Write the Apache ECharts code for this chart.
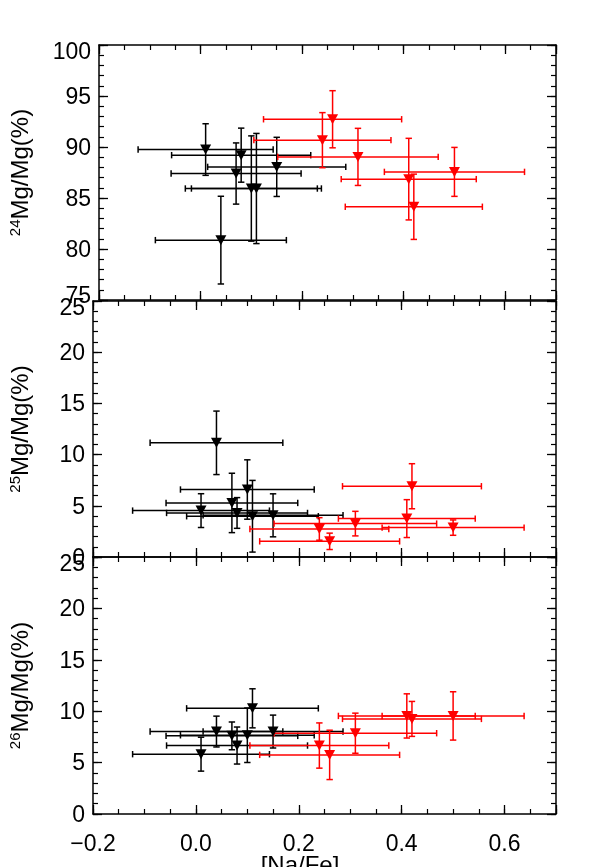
<!DOCTYPE html>
<html><head><meta charset="utf-8">
<script src="https://cdn.jsdelivr.net/npm/echarts@6/dist/echarts.min.js"></script>
<style>html,body{margin:0;padding:0;background:#fff}#c{width:598px;height:867px}</style>
</head><body><div id="c"></div>
<script>
// ---- data ----
// black group
const naFeBlack     = [0.01, 0.04, 0.07, 0.08, 0.10, 0.11, 0.15];
const naFeErrBlack  = [0.133, 0.129, 0.128, 0.137, 0.130, 0.128, 0.136];
const mg24Black     = [89.75, 80.87, 87.40, 89.20, 85.93, 85.93, 88.05];
const mg24ErrBlack  = [2.53, 4.3, 3.0, 2.65, 5.16, 5.4, 2.9];
const mg25Black     = [4.53, 11.15, 5.28, 4.30, 6.59, 3.98, 4.07];
const mg25ErrBlack  = [1.65, 3.1, 2.9, 1.5, 2.9, 3.5, 2.1];
const mg26Black     = [5.82, 8.02, 7.60, 6.66, 7.66, 10.28, 8.02];
const mg26ErrBlack  = [1.65, 1.5, 1.35, 1.8, 2.65, 1.9, 1.6];
// red group
const naFeRed       = [0.24, 0.26, 0.31, 0.41, 0.42, 0.50];
const naFeErrRed    = [0.135, 0.136, 0.158, 0.133, 0.135, 0.138];
const mg24Red       = [90.67, 92.72, 89.03, 86.85, 84.14, 87.56];
const mg24ErrRed    = [2.7, 2.8, 2.8, 4.0, 3.2, 2.4];
const mg25Red       = [2.74, 1.53, 3.26, 3.75, 6.91, 2.87];
const mg25ErrRed    = [1.1, 0.8, 1.2, 1.85, 2.2, 0.75];
const mg26Red       = [6.66, 5.75, 7.86, 9.54, 9.25, 9.54];
const mg26ErrRed    = [2.2, 2.4, 1.95, 2.15, 1.7, 2.35];
// axes
const xRange     = [-0.2, 0.7];
const xStep      = 0.2;
const xMinorStep = 0.05;
const yRanges    = [[75, 100], [0, 25], [0, 25]];
const yStep      = 5;
const yMinorStep = 1;
const yNames     = ['24', '25', '26'];
const xName      = '[Na/Fe]';

// ---- chart ----
const FONT = '"Liberation Sans", Arial, Helvetica, sans-serif';
const chart = echarts.init(document.getElementById('c'), null, {renderer: 'canvas'});
const gridBoxes = [
  {left: 93, right: 42, top: 45, height: 255},
  {left: 93, right: 42, top: 301, height: 256},
  {left: 93, right: 42, top: 557, height: 257}
];
const lineSty = {color: '#000', width: 1.5};
const majorTick = {show: true, inside: true, length: 9, lineStyle: {color: '#000', width: 1.3}};
const minorTickAx = {show: true, inside: true, length: 5, lineStyle: {color: '#000', width: 1.2}};

const xAxes = [], yAxes = [];
gridBoxes.forEach((g, i) => {
  ['bottom', 'top'].forEach(pos => {
    xAxes.push({
      gridIndex: i, type: 'value', position: pos, min: xRange[0], max: xRange[1], interval: xStep,
      axisLine: {show: true, onZero: false, lineStyle: lineSty},
      axisTick: majorTick, minorTick: {show: false}, splitLine: {show: false},
      axisLabel: {
        show: (i === 2 && pos === 'bottom'), margin: 19, color: '#000', fontSize: 23, fontFamily: FONT,
        formatter: v => Math.abs(v - xRange[1]) < 1e-9 ? '' : (v < -1e-9 ? '\u2212' : '') + Math.abs(v).toFixed(1)
      }
    });
    xAxes.push({
      gridIndex: i, type: 'value', position: pos, min: xRange[0], max: xRange[1], interval: xMinorStep,
      axisLine: {show: false, onZero: false}, axisTick: minorTickAx,
      splitLine: {show: false}, axisLabel: {show: false}
    });
  });
  ['left', 'right'].forEach(pos => {
    const r = yRanges[i];
    yAxes.push({
      gridIndex: i, type: 'value', position: pos, min: r[0], max: r[1], interval: yStep,
      axisLine: {show: true, onZero: false, lineStyle: lineSty},
      axisTick: majorTick, minorTick: {show: false}, splitLine: {show: false},
      axisLabel: {
        show: pos === 'left', margin: 8, color: '#000', fontSize: 23, fontFamily: FONT,
        formatter: v => v === r[1] ? '{t|' + v + '}' : (v === r[0] && i === 0 ? '{b|' + v + '}' : '{n|' + v + '}'),
        rich: {
          t: {fontSize: 23, fontFamily: FONT, color: '#000', padding: [16, 0, 0, 0]},
          b: {fontSize: 23, fontFamily: FONT, color: '#000', padding: [0, 0, 6, 0]},
          n: {fontSize: 23, fontFamily: FONT, color: '#000', padding: [3, 0, 0, 0]}
        }
      },
      name: pos === 'left' ? '{s|' + yNames[i] + '}{m|Mg/Mg(%)}' : '',
      nameLocation: 'middle', nameRotate: 90, nameGap: i === 0 ? 65 : 59,
      nameTextStyle: {
        color: '#000', fontFamily: FONT, fontSize: 24,
        rich: {
          s: {fontSize: 15, fontFamily: FONT, color: '#000', verticalAlign: 'top', lineHeight: 26},
          m: {fontSize: 24, fontFamily: FONT, color: '#000', lineHeight: 26}
        }
      }
    });
    yAxes.push({
      gridIndex: i, type: 'value', position: pos, min: r[0], max: r[1], interval: yMinorStep,
      axisLine: {show: false, onZero: false}, axisTick: minorTickAx,
      splitLine: {show: false}, axisLabel: {show: false}
    });
  });
});

function errSeries(xs, xe, ys, ye, color, panel) {
  return {
    type: 'custom', xAxisIndex: panel * 4, yAxisIndex: panel * 4, z: 2,
    data: xs.map((x, k) => [x, ys[k], xe[k], ye[k]]),
    encode: {x: 0, y: 1},
    renderItem: (params, api) => {
      const x = api.value(0), y = api.value(1), ex = api.value(2), ey = api.value(3);
      const l = api.coord([x - ex, y]), r = api.coord([x + ex, y]);
      const t = api.coord([x, y + ey]), b = api.coord([x, y - ey]);
      const cap = 3.2;
      const st = {stroke: color, lineWidth: 1.5};
      const ln = (x1, y1, x2, y2) => ({type: 'line', shape: {x1, y1, x2, y2}, style: st});
      return {type: 'group', children: [
        ln(l[0], l[1], r[0], r[1]),
        ln(l[0], l[1] - cap, l[0], l[1] + cap),
        ln(r[0], r[1] - cap, r[0], r[1] + cap),
        ln(t[0], t[1], b[0], b[1]),
        ln(t[0] - cap, t[1], t[0] + cap, t[1]),
        ln(b[0] - cap, b[1], b[0] + cap, b[1])
      ]};
    }
  };
}
function markSeries(xs, ys, color, panel) {
  return {
    type: 'scatter', xAxisIndex: panel * 4, yAxisIndex: panel * 4, z: 3,
    data: xs.map((x, k) => [x, ys[k]]),
    symbol: 'triangle', symbolRotate: 180, symbolSize: [11, 10],
    itemStyle: {color: color, opacity: 1}
  };
}

const panelsBlack = [[mg24Black, mg24ErrBlack], [mg25Black, mg25ErrBlack], [mg26Black, mg26ErrBlack]];
const panelsRed   = [[mg24Red, mg24ErrRed], [mg25Red, mg25ErrRed], [mg26Red, mg26ErrRed]];
const series = [];
for (let p = 0; p < 3; p++) {
  series.push(errSeries(naFeBlack, naFeErrBlack, panelsBlack[p][0], panelsBlack[p][1], '#000000', p));
  series.push(markSeries(naFeBlack, panelsBlack[p][0], '#000000', p));
  series.push(errSeries(naFeRed, naFeErrRed, panelsRed[p][0], panelsRed[p][1], '#ff0000', p));
  series.push(markSeries(naFeRed, panelsRed[p][0], '#ff0000', p));
}

chart.setOption({
  animation: false,
  backgroundColor: '#ffffff',
  textStyle: {fontFamily: FONT},
  grid: gridBoxes,
  xAxis: xAxes,
  yAxis: yAxes,
  series: series,
  graphic: [{
    type: 'text', x: 300, y: 854,
    style: {text: xName, fontSize: 24, fontFamily: FONT, fill: '#000', textAlign: 'center', textVerticalAlign: 'top'}
  }]
});
</script>
</body></html>
